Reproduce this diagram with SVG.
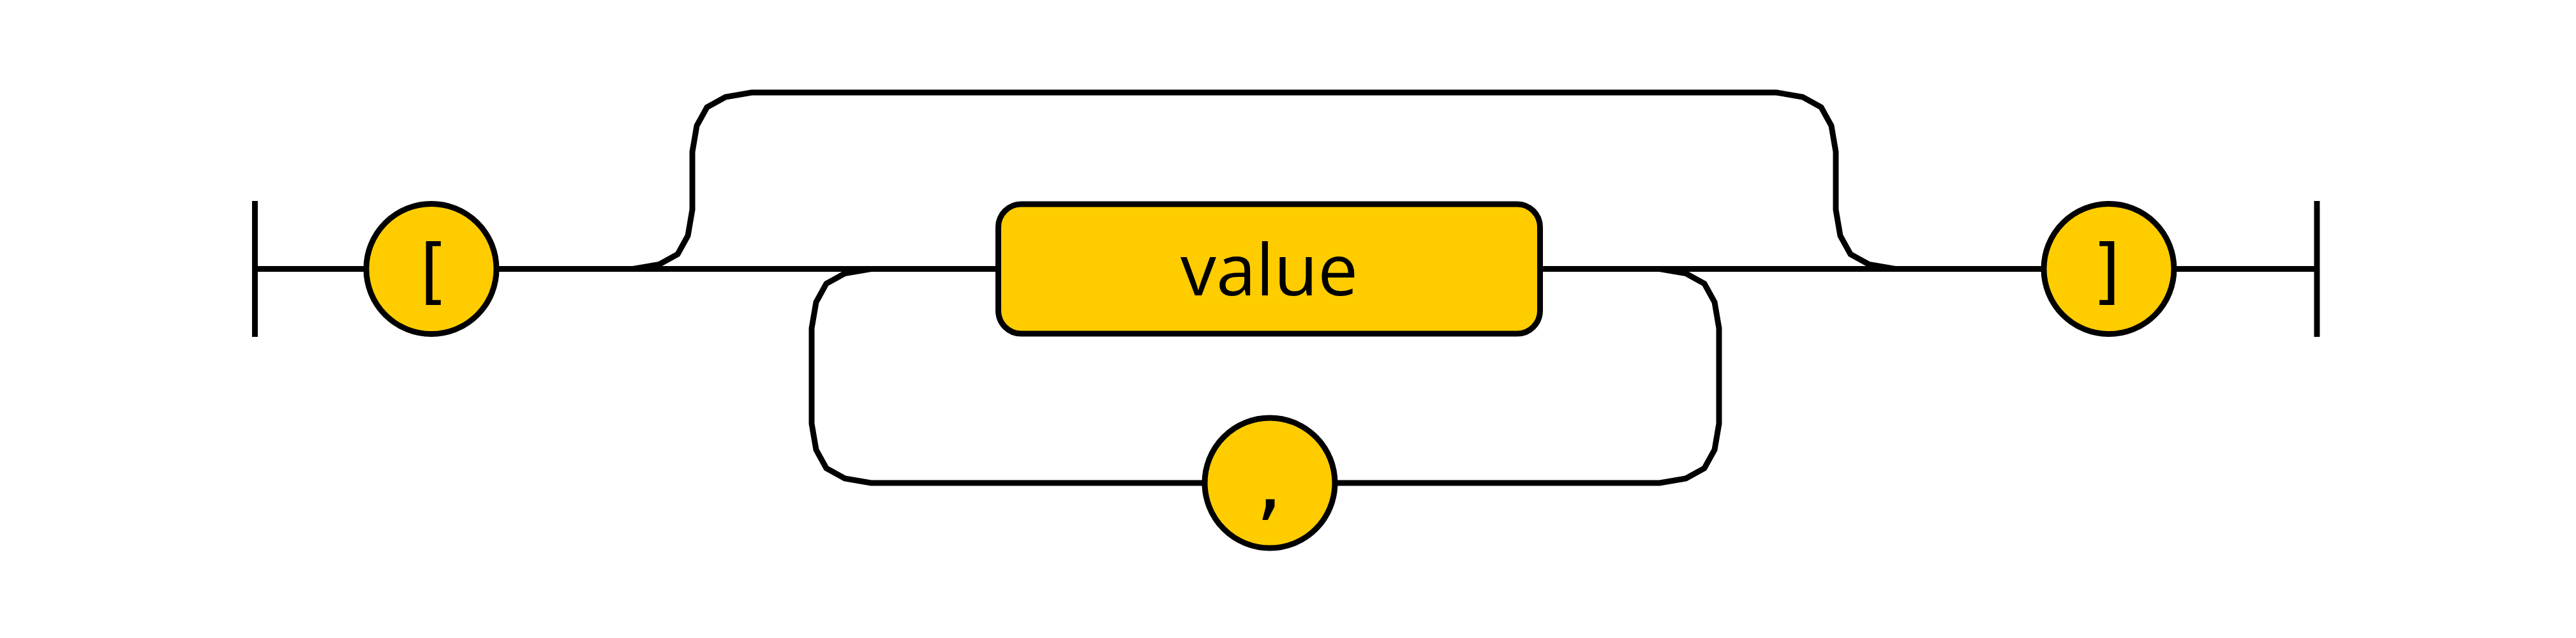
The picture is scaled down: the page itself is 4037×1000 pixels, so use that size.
<svg xmlns="http://www.w3.org/2000/svg" width="4037" height="1000" viewBox="0 0 4037 1000">
<style>
.ln{fill:none;stroke:#000;stroke-width:9}
.term{fill:#FFCC00;stroke:#000;stroke-width:9}
.nt{fill:#FFCC00;stroke:#000;stroke-width:9}
.tt{font-family:"DejaVu Sans Mono","Liberation Mono",monospace;font-size:112px;fill:#000;text-anchor:middle}
.nx{font-family:"Open Sans","DejaVu Sans",sans-serif;font-size:112px;fill:#000;text-anchor:middle}
</style>
<rect width="4037" height="1000" fill="#fff"/>
<g id="connectors">
<line class="ln" x1="399.5" y1="315" x2="399.5" y2="528"/>
<line class="ln" x1="3631" y1="315" x2="3631" y2="528"/>
<path class="ln" d="M399.5,421.5H574"/>
<path class="ln" d="M778,421.5H1564.5"/>
<path class="ln" d="M2413.5,421.5H3203"/>
<path class="ln" d="M3407,421.5H3631"/>
<path class="ln" d="M992,421.5L1033,414.5L1062,398.5L1078,369.5L1085,328.5V238L1092,197L1108,168L1137,152L1178,145H2784L2825,152L2854,168L2870,197L2877,238V328.5L2884,369.5L2900,398.5L2929,414.5L2970,421.5"/>
<path class="ln" d="M1365,421.5L1324,428.5L1295,444.5L1279,473.5L1272,514.5V664L1279,705L1295,734L1324,750L1365,757H1888"/>
<path class="ln" d="M2092,757H2601L2642,750L2671,734L2687,705L2694,664V514.5L2687,473.5L2671,444.5L2642,428.5L2601,421.5"/>
</g>
<g id="open-bracket">
<circle class="term" cx="676" cy="421.5" r="102"/>
<text class="tt" x="676" y="463">[</text>
</g>
<g id="value">
<rect class="nt" x="1564.5" y="320" width="849" height="203" rx="36" ry="36"/>
<text class="nx" x="1989" y="463">value</text>
</g>
<g id="comma">
<circle class="term" cx="1990" cy="757" r="102"/>
<text class="tt" x="1990" y="799">,</text>
</g>
<g id="close-bracket">
<circle class="term" cx="3305" cy="421.5" r="102"/>
<text class="tt" x="3305" y="463">]</text>
</g>
</svg>
